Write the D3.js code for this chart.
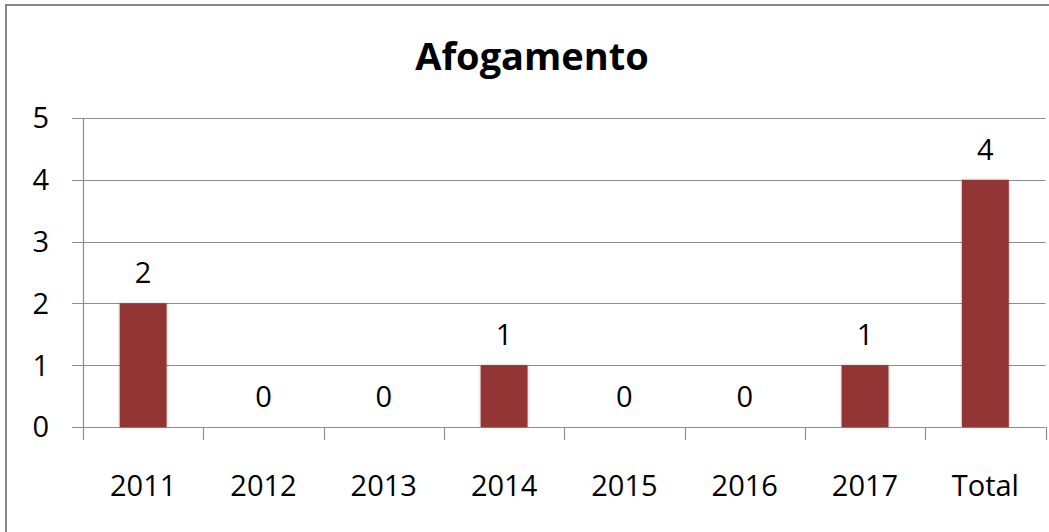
<!DOCTYPE html>
<html>
<head>
<meta charset="utf-8">
<script src="https://d3js.org/d3.v7.min.js"></script>
<style>
	body { margin:0; background:#fff; }
	text { font-family:"Open Sans", sans-serif; fill:#000; }
</style>
</head>
<body>
<script>
	var width = 1049;
	var height = 532;

	var categories = ["2011","2012","2013","2014","2015","2016","2017","Total"];
	var values = [2,0,0,1,0,0,1,4];
	var yTicks = [0,1,2,3,4,5];
	var title = "Afogamento";

	var plotLeft = 83, plotRight = 1045.5, plotTop = 118, plotBottom = 427;

	var svg = d3.select("body")
		.append("svg")
		.attr("width",width)
		.attr("height",height);

	var defs = svg.append("defs");
	var shadow = defs.append("filter")
		.attr("id","shadow")
		.attr("x","-20%").attr("y","-20%")
		.attr("width","140%").attr("height","140%");
	shadow.append("feDropShadow")
		.attr("dx",0).attr("dy",0)
		.attr("stdDeviation",1.5)
		.attr("flood-color","#000")
		.attr("flood-opacity",0.25);

	// chart area frame
	svg.append("rect")
		.attr("x",6)
		.attr("y",5)
		.attr("width",width+20)
		.attr("height",height+20)
		.attr("fill","white")
		.attr("stroke","#878787")
		.attr("stroke-width",2);

	svg.append("text")
		.attr("x",532)
		.attr("y",70)
		.attr("text-anchor","middle")
		.attr("font-size",38)
		.attr("font-weight","bold")
		.text(title);

	var x = d3.scaleBand()
		.domain(categories)
		.range([plotLeft,plotRight])
		.paddingInner(0.61)
		.paddingOuter(0.305);

	var xBands = d3.scaleBand()
		.domain(categories)
		.range([plotLeft,plotRight]);

	var y = d3.scaleLinear()
		.domain([0,5])
		.range([plotBottom,plotTop]);

	// gridlines
	svg.append("g")
		.selectAll("line")
		.data(yTicks)
		.enter()
			.append("line")
			.attr("x1",plotLeft-11)
			.attr("x2",plotRight)
			.attr("y1",function(d){return Math.round(y(d))+0.5})
			.attr("y2",function(d){return Math.round(y(d))+0.5})
			.attr("stroke","#8c8c8c")
			.attr("stroke-width",1.2);

	// y axis line
	svg.append("line")
		.attr("x1",plotLeft+0.5).attr("x2",plotLeft+0.5)
		.attr("y1",plotTop).attr("y2",plotBottom)
		.attr("stroke","#8c8c8c")
		.attr("stroke-width",1.2);

	svg.append("g")
		.selectAll("text")
		.data(yTicks)
		.enter()
			.append("text")
			.attr("x",49)
			.attr("y",function(d){return y(d)})
			.attr("dy","0.36em")
			.attr("text-anchor","end")
			.attr("font-size",29)
			.text(function(d){return d});

	// x ticks at band edges
	var edges = categories.map(function(c){return xBands(c)}).concat([plotRight]);
	svg.append("g")
		.selectAll("line")
		.data(edges)
		.enter()
			.append("line")
			.attr("x1",function(d){return Math.round(d)+0.5})
			.attr("x2",function(d){return Math.round(d)+0.5})
			.attr("y1",plotBottom)
			.attr("y2",plotBottom+13)
			.attr("stroke","#8c8c8c")
			.attr("stroke-width",1.2);

	svg.append("g")
		.selectAll("text")
		.data(categories)
		.enter()
			.append("text")
			.attr("x",function(d){return xBands(d)+xBands.bandwidth()/2})
			.attr("y",496)
			.attr("text-anchor","middle")
			.attr("font-size",29)
			.text(function(d){return d});

	svg.append("g")
		.selectAll("rect")
		.data(values)
		.enter()
			.append("rect")
			.attr("x",function(d,i){return x(categories[i])})
			.attr("width",x.bandwidth())
			.attr("y",function(d){return y(d)})
			.attr("height",function(d){return y(0)-y(d)})
			.attr("fill","#943634")
			.attr("filter","url(#shadow)");

	svg.append("g")
		.selectAll("text")
		.data(values)
		.enter()
			.append("text")
			.attr("x",function(d,i){return x(categories[i])+x.bandwidth()/2})
			.attr("y",function(d){return y(d)-20})
			.attr("text-anchor","middle")
			.attr("font-size",29)
			.text(function(d){return d});
</script>
</body>
</html>
